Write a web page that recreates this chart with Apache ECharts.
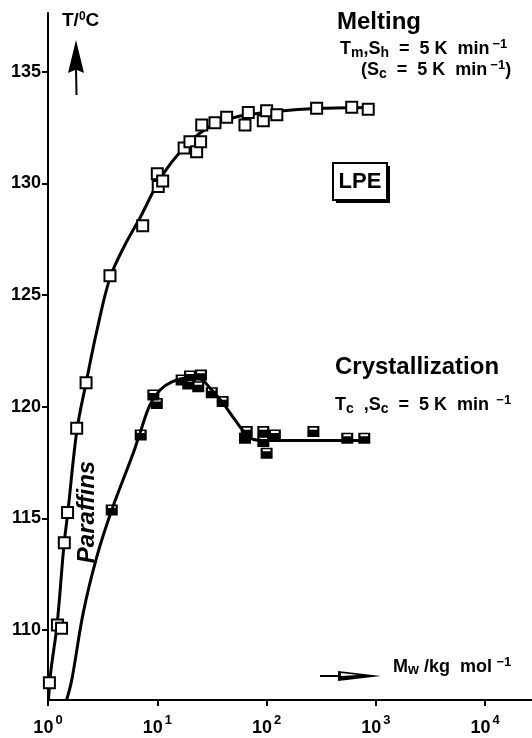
<!DOCTYPE html>
<html>
<head>
<meta charset="utf-8">
<script src="https://cdn.jsdelivr.net/npm/echarts@6/dist/echarts.min.js"></script>
<style>
html,body{margin:0;padding:0;background:#fff;}
#c{width:532px;height:738px;}
</style>
</head>
<body>
<div id="c"></div>
<script>
// ---- data ----
// Melting: measured points (Mw in kg/mol, T in °C)
var meltMw = [1.03, 1.22, 1.33, 1.41, 1.51, 1.83, 2.23, 3.69, 7.35, 10.0, 10.2, 11.2, 17.6, 19.9, 22.9, 24.9, 25.5, 33.7, 43.1, 63.4, 68.0, 93.3, 100, 124, 287, 601, 851];
var meltT  = [107.64, 110.23, 110.08, 113.91, 115.26, 119.04, 121.07, 125.87, 128.10, 130.43, 129.86, 130.11, 131.58, 131.87, 131.42, 131.87, 132.62, 132.72, 132.96, 132.62, 133.17, 132.81, 133.25, 133.07, 133.37, 133.41, 133.32];
// Melting: drawn curve
var meltCurveMw = [1.01, 1.065, 1.21, 1.40, 1.52, 1.84, 2.23, 2.81, 3.69, 5.06, 6.95, 10.1, 13.6, 17.9, 24.6, 33.7, 57.1, 119, 308, 921];
var meltCurveT  = [106.87, 108.21, 110.23, 113.81, 115.29, 118.96, 121.07, 123.44, 125.77, 127.25, 128.46, 130.02, 130.96, 131.63, 132.26, 132.66, 133.02, 133.22, 133.36, 133.40];
// Crystallization: measured points
var crysMw = [3.83, 7.05, 9.2, 9.9, 16.7, 19.9, 19.2, 25.1, 23.7, 31.5, 39.6, 65.8, 63.4, 93.3, 119, 93.3, 100, 268, 547, 783];
var crysT  = [115.38, 118.74, 120.53, 120.15, 121.2, 121.38, 121.02, 121.42, 120.9, 120.63, 120.23, 118.89, 118.59, 118.89, 118.74, 118.44, 117.92, 118.89, 118.59, 118.59];
// Crystallization: drawn curve
var crysCurveMw = [1.48, 1.65, 2.10, 2.79, 3.83, 6.03, 6.95, 8.57, 10.6, 13.6, 18.7, 24.6, 30.3, 39.1, 51.4, 63.4, 73.5, 90.8, 202, 883];
var crysCurveT  = [106.87, 107.77, 110.77, 113.27, 115.38, 117.93, 118.83, 120.08, 120.75, 121.11, 121.29, 121.25, 120.84, 120.22, 119.41, 118.83, 118.56, 118.49, 118.49, 118.49];
// axis ticks
var yTicks = [110, 115, 120, 125, 130, 135];
var xTicks = [1, 10, 100, 1000, 10000];

function pairs(a, b){ var r=[]; for(var i=0;i<a.length;i++) r.push([a[i], b[i]]); return r; }

var FONT = '"Liberation Sans", Arial, Helvetica, sans-serif';
var chart = echarts.init(document.getElementById('c'), null, {renderer:'canvas'});

var halfFilled = 'path://M0,0 H12 V11 H0 Z M2.2,1.6 V3.6 H9.8 V1.6 Z';

function richN(sz){ return {fontFamily: FONT, fontWeight: 'bold', fontSize: sz, fill: '#000'}; }

var option = {
  backgroundColor: '#fff',
  animation: false,
  grid: {left: 48, right: 0, top: 13, bottom: 38, containLabel: false},
  xAxis: {
    type: 'log', logBase: 10, min: 1, max: 26800,
    axisLine: {show: true, lineStyle: {color: '#000', width: 2}},
    axisTick: {show: true, inside: false, length: 6, lineStyle: {color: '#000', width: 2}, customValues: xTicks},
    splitLine: {show: false},
    minorTick: {show: false},
    axisLabel: {
      show: true, margin: 11, customValues: xTicks,
      formatter: function(v){
        var n = Math.round(Math.log10(v));
        return '{b|10}{s|' + n + '}';
      },
      rich: {
        b: {fontFamily: FONT, fontWeight: 'bold', fontSize: 18, color: '#000', padding: [8,0,0,0]},
        s: {fontFamily: FONT, fontWeight: 'bold', fontSize: 13, color: '#000', padding: [0,0,7,2]}
      }
    }
  },
  yAxis: {
    type: 'value', min: 106.87, max: 137.63,
    axisLine: {show: true, lineStyle: {color: '#000', width: 2}},
    axisTick: {show: true, inside: false, length: 6, lineStyle: {color: '#000', width: 2}, customValues: yTicks},
    splitLine: {show: false},
    axisLabel: {
      show: true, margin: 7, customValues: yTicks,
      fontFamily: FONT, fontWeight: 'bold', fontSize: 18, color: '#000'
    }
  },
  series: [
    {type: 'line', data: pairs(meltCurveMw, meltCurveT), smooth: 0.35, showSymbol: false, symbol: 'none',
     lineStyle: {color: '#000', width: 3}, z: 2, silent: true},
    {type: 'line', data: pairs(crysCurveMw, crysCurveT), smooth: 0.35, showSymbol: false, symbol: 'none',
     lineStyle: {color: '#000', width: 3}, z: 2, silent: true},
    {type: 'scatter', data: pairs(meltMw, meltT), symbol: 'rect', symbolSize: 11,
     itemStyle: {color: '#fff', borderColor: '#000', borderWidth: 2, opacity: 1}, z: 3},
    {type: 'scatter', data: pairs(crysMw, crysT), symbol: halfFilled, symbolSize: [12, 11],
     symbolKeepAspect: false,
     itemStyle: {color: '#000', opacity: 1}, z: 4}
  ],
  graphic: [
    // y axis title
    {type: 'text', left: 62, top: 11, style: {
      text: '{n|T/}{s|0}{n|C}', rich: {
        n: richN(19),
        s: {fontFamily: FONT, fontWeight: 'bold', fontSize: 12, fill: '#000', padding: [0,0,8,0]}
      }}},
    // up arrow
    {type: 'polygon', shape: {points: [[76,40],[84,73],[77,70],[75,70],[68,73]]}, style: {fill: '#000'}},
    {type: 'line', shape: {x1: 76, y1: 68, x2: 76.5, y2: 95}, style: {stroke: '#000', lineWidth: 2}},
    // Melting annotations
    {type: 'text', left: 337, top: 10, style: {text: 'Melting', fontFamily: FONT, fontWeight: 'bold', fontSize: 24, fill: '#000'}},
    {type: 'text', left: 340, top: 38, style: {
      text: '{n|T}{b|m}{n|,S}{b|h}{n|  =  5 K  min}{p|−1}', rich: {
        n: richN(18),
        b: {fontFamily: FONT, fontWeight: 'bold', fontSize: 14, fill: '#000', padding: [7,0,0,0]},
        p: {fontFamily: FONT, fontWeight: 'bold', fontSize: 13, fill: '#000', padding: [0,0,10,3]}
      }}},
    {type: 'text', left: 361, top: 59, style: {
      text: '{n|(S}{b|c}{n|  =  5 K  min}{p|−1}{n|)}', rich: {
        n: richN(18),
        b: {fontFamily: FONT, fontWeight: 'bold', fontSize: 14, fill: '#000', padding: [7,0,0,0]},
        p: {fontFamily: FONT, fontWeight: 'bold', fontSize: 13, fill: '#000', padding: [0,0,10,3]}
      }}},
    // LPE box with shadow
    {type: 'rect', shape: {x: 336, y: 166, width: 54, height: 37}, style: {fill: '#000'}},
    {type: 'rect', shape: {x: 333, y: 163, width: 54, height: 37}, style: {fill: '#fff', stroke: '#000', lineWidth: 2}},
    {type: 'text', x: 360, y: 182, style: {text: 'LPE', fontFamily: FONT, fontWeight: 'bold', fontSize: 22, fill: '#000', align: 'center', verticalAlign: 'middle'}},
    // Crystallization annotations
    {type: 'text', left: 335, top: 355, style: {text: 'Crystallization', fontFamily: FONT, fontWeight: 'bold', fontSize: 24, fill: '#000'}},
    {type: 'text', left: 335, top: 394, style: {
      text: '{n|T}{b|c}{n|  ,S}{b|c}{n|  =  5 K  min}{p|  −1}', rich: {
        n: richN(18),
        b: {fontFamily: FONT, fontWeight: 'bold', fontSize: 14, fill: '#000', padding: [7,0,0,0]},
        p: {fontFamily: FONT, fontWeight: 'bold', fontSize: 13, fill: '#000', padding: [0,0,10,0]}
      }}},
    // Paraffins
    {type: 'text', x: 87, y: 512, rotation: Math.PI/2, style: {
      text: 'Paraffins', fontFamily: FONT, fontWeight: 'bold', fontStyle: 'italic', fontSize: 24, fill: '#000',
      align: 'center', verticalAlign: 'middle'}},
    // x axis arrow and title
    {type: 'line', shape: {x1: 320, y1: 676, x2: 340, y2: 676}, style: {stroke: '#000', lineWidth: 2}},
    {type: 'polygon', shape: {points: [[338,671],[381,676],[338,681]]}, style: {fill: '#000'}},
    {type: 'polygon', shape: {points: [[341,673],[358,675],[341,676]]}, style: {fill: '#fff'}},
    {type: 'text', left: 393, top: 656, style: {
      text: '{n|M}{b|w}{n| /kg  mol}{p| −1}', rich: {
        n: richN(18),
        b: {fontFamily: FONT, fontWeight: 'bold', fontSize: 14, fill: '#000', padding: [5,0,0,0]},
        p: {fontFamily: FONT, fontWeight: 'bold', fontSize: 13, fill: '#000', padding: [0,0,10,1]}
      }}}
  ]
};
chart.setOption(option);
</script>
</body>
</html>
